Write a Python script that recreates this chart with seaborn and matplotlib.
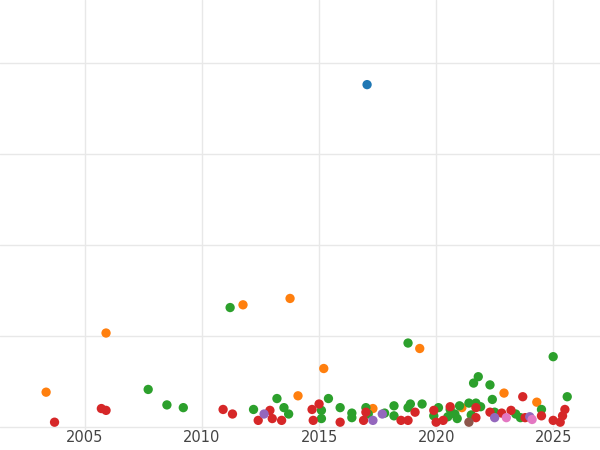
import seaborn as sns
import matplotlib.pyplot as plt
import pandas as pd

# values (x = year, y = value)
blue_x = [2017.05]
blue_y = [3.76]
orange_x = [2003.34, 2005.9, 2011.75, 2013.76, 2014.1, 2015.2, 2019.3, 2022.9, 2024.3, 2017.3, 2021.1]
orange_y = [0.38, 1.03, 1.34, 1.41, 0.34, 0.64, 0.86, 0.37, 0.27, 0.2, 0.21]
green_x = [2007.7, 2008.5, 2009.2, 2011.2, 2012.2, 2013.2, 2013.5, 2013.7, 2015.1, 2015.1,
           2015.4, 2015.9, 2016.4, 2016.4, 2017.0, 2017.1, 2017.8, 2018.2, 2018.2, 2018.8,
           2018.9, 2018.8, 2019.4, 2020.1, 2020.6, 2020.8, 2020.9, 2021.0, 2021.4, 2021.5,
           2021.6, 2021.7, 2021.8, 2021.9, 2022.3, 2022.4, 2022.5, 2023.4, 2023.6, 2024.5,
           2025.0, 2025.6, 2020.5, 2019.9]
green_y = [0.41, 0.24, 0.21, 1.31, 0.19, 0.31, 0.21, 0.14, 0.18, 0.09,
           0.31, 0.21, 0.15, 0.1, 0.21, 0.14, 0.15, 0.23, 0.12, 0.92,
           0.25, 0.21, 0.25, 0.21, 0.19, 0.14, 0.09, 0.23, 0.26, 0.13,
           0.48, 0.26, 0.55, 0.22, 0.46, 0.3, 0.16, 0.14, 0.1, 0.19,
           0.77, 0.33, 0.11, 0.12]
red_x = [2003.7, 2005.7, 2005.9, 2010.9, 2011.3, 2012.4, 2012.9, 2013.0, 2013.4, 2014.7,
         2014.75, 2015.0, 2015.9, 2016.9, 2017.0, 2018.5, 2018.8, 2019.1, 2019.9, 2020.0,
         2020.3, 2020.6, 2021.7, 2021.7, 2022.3, 2022.8, 2023.2, 2023.7, 2023.8, 2024.5,
         2025.0, 2025.3, 2025.5, 2025.4]
red_y = [0.05, 0.2, 0.18, 0.19, 0.14, 0.07, 0.18, 0.09, 0.07, 0.19,
         0.07, 0.25, 0.05, 0.07, 0.16, 0.07, 0.07, 0.16, 0.18, 0.05,
         0.07, 0.22, 0.1, 0.21, 0.16, 0.15, 0.18, 0.33, 0.1, 0.12,
         0.07, 0.05, 0.19, 0.12]
purple_x = [2012.65, 2017.3, 2017.7, 2022.5, 2024.0]
purple_y = [0.14, 0.07, 0.14, 0.1, 0.11]
brown_x = [2021.4]
brown_y = [0.05]
pink_x = [2023.0, 2024.1]
pink_y = [0.1, 0.08]

groups = [("a", blue_x, blue_y), ("b", orange_x, orange_y), ("c", green_x, green_y),
          ("d", red_x, red_y), ("e", purple_x, purple_y), ("f", brown_x, brown_y),
          ("g", pink_x, pink_y)]
df = pd.concat([pd.DataFrame({"x": xs, "y": ys, "grp": g}) for g, xs, ys in groups])

sns.set_theme(style="whitegrid")
plt.rcParams['font.family'] = ['DejaVu Sans']
fig = plt.figure(figsize=(6, 4.5), dpi=100)
ax = fig.add_axes([0, 0.045, 1, 0.955])
sns.scatterplot(data=df, x="x", y="y", hue="grp", palette="tab10", s=45,
                linewidth=0, legend=False, ax=ax)
ax.set_xlim(2001.37, 2027.0)
ax.set_ylim(-0.033, 4.69)
ax.set_xticks([2005, 2010, 2015, 2020, 2025])
ax.set_yticks([0, 1, 2, 3, 4])
ax.set_yticklabels([])
ax.tick_params(axis="y", length=0)
ax.tick_params(axis="x", labelsize=10.5, colors="#444444", pad=0, length=0)
ax.set_xlabel("")
ax.set_ylabel("")
ax.grid(color="#e8e8e8")
for s in ax.spines.values():
    s.set_visible(False)
fig.savefig("out.png")
